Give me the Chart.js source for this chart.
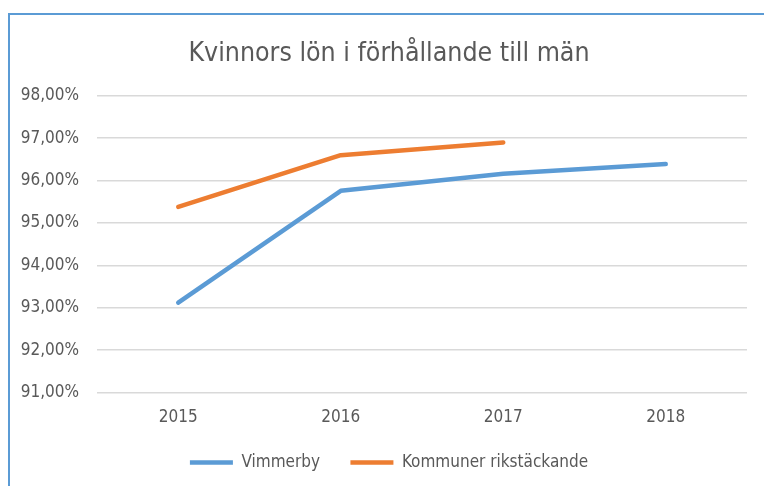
<!DOCTYPE html>
<html>
<head>
<meta charset="utf-8">
<script src="https://cdn.jsdelivr.net/npm/chart.js@4.4.1/dist/chart.umd.min.js"></script>
<style>
    html, body { margin: 0; padding: 0; background: #fff; overflow: hidden; }
    #frame {
        position: absolute;
        left: 8px;
        top: 13px;
        width: 770px;
        height: 500px;
        border-left: 2px solid #5B9BD5;
        border-top: 2px solid #5B9BD5;
        background: #fff;
    }
    #lonChart { display: block; }
</style>
</head>
<body>
<div id="frame">
    <canvas id="lonChart" width="758" height="466"></canvas>
</div>
<script>
// 数据
const years = ['2015', '2016', '2017', '2018'];
const vimmerby = [93.12, 95.76, 96.16, 96.39];
const kommuner = [95.38, 96.60, 96.90, null];
const yTicks = [91, 92, 93, 94, 95, 96, 97, 98];

const FONT = "'Liberation Sans Narrow', 'DejaVu Sans Condensed', sans-serif";
const TEXT_COLOR = '#595959';

// 百分比格式（瑞典语用逗号）
function formatPercent(v) {
    return v.toFixed(2).replace('.', ',') + '%';
}

const ctx = document.getElementById('lonChart');

new Chart(ctx.getContext('2d'), {
    type: 'line',
    data: {
        labels: years,
        datasets: [{
            label: 'Vimmerby',
            data: vimmerby,
            borderColor: '#5B9BD5',
            backgroundColor: '#5B9BD5',
            borderWidth: 4.5,
            borderCapStyle: 'round',
            borderJoinStyle: 'round',
            pointRadius: 0,
            tension: 0
        }, {
            label: 'Kommuner rikstäckande',
            data: kommuner,
            borderColor: '#ED7D31',
            backgroundColor: '#ED7D31',
            borderWidth: 4.5,
            borderCapStyle: 'round',
            borderJoinStyle: 'round',
            pointRadius: 0,
            tension: 0
        }]
    },
    options: {
        responsive: false,
        animation: false,
        layout: { padding: 0 },
        plugins: {
            title: {
                display: true,
                text: 'Kvinnors lön i förhållande till män',
                color: TEXT_COLOR,
                font: { family: FONT, size: 26.5, weight: 'normal' },
                padding: { top: 23, bottom: 26 }
            },
            legend: {
                position: 'bottom',
                labels: {
                    usePointStyle: true,
                    pointStyle: 'line',
                    pointStyleWidth: 43,
                    boxHeight: 17,
                    padding: 11,
                    color: TEXT_COLOR,
                    font: { family: FONT, size: 17 },
                    // 图例项之间留出更大的水平间距
                    generateLabels(chart) {
                        const items = Chart.defaults.plugins.legend.labels.generateLabels(chart);
                        items.forEach((item, i) => {
                            if (i < items.length - 1) item.text += '\u00a0\u00a0\u00a0\u00a0';
                        });
                        return items;
                    }
                }
            },
            tooltip: { enabled: false }
        },
        scales: {
            x: {
                offset: true,
                grid: { display: false, drawTicks: false },
                border: { display: false },
                ticks: {
                    color: TEXT_COLOR,
                    font: { family: FONT, size: 17 },
                    padding: 15
                }
            },
            y: {
                min: yTicks[0],
                max: yTicks[yTicks.length - 1],
                afterFit(scale) { scale.width = 87; },
                afterBuildTicks(scale) {
                    scale.ticks = yTicks.map(v => ({ value: v }));
                },
                grid: {
                    color: '#D9D9D9',
                    lineWidth: 1.5,
                    drawTicks: false
                },
                border: { display: false },
                ticks: {
                    color: TEXT_COLOR,
                    font: { family: FONT, size: 17 },
                    padding: 18,
                    callback: v => formatPercent(v)
                }
            },
            // 右侧空白轴，只用来留出右边距
            yRight: {
                type: 'linear',
                position: 'right',
                afterFit(scale) { scale.width = 21; },
                grid: { display: false, drawTicks: false },
                border: { display: false },
                ticks: { display: false }
            }
        }
    }
});
</script>
</body>
</html>
